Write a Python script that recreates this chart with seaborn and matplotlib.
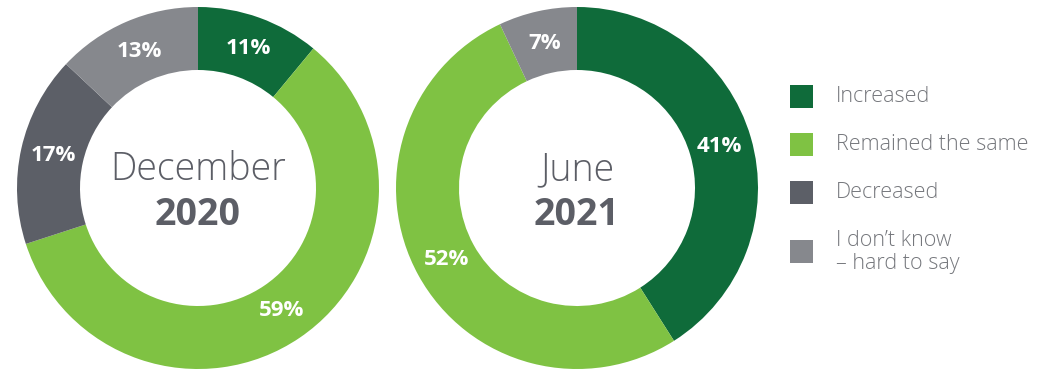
import matplotlib
matplotlib.use("Agg")
import matplotlib.pyplot as plt
from matplotlib.patches import Rectangle
import seaborn as sns

# Survey responses, share of respondents (%)
categories = ["Increased", "Remained the same", "Decreased", "I don\u2019t know\n\u2013 hard to say"]
dec_2020 = [11, 59, 17, 13]
jun_2021 = [41, 52, 0, 7]
period_months = ["December", "June"]
period_years = ["2020", "2021"]

colors = ["#0f6b3a", "#7fc243", "#5c5f67", "#86888d"]
text_dark = "#5c5e66"
legend_text = "#75777c"

sns.set_theme(style="white")
plt.rcParams["font.family"] = ["Open Sans", "DejaVu Sans"]

W, H = 1051, 371
fig = plt.figure(figsize=(W / 100, H / 100), dpi=100)
fig.patch.set_facecolor("white")

R_OUT = 181
RING = 63


def px_axes(cx, cy, r):
    return fig.add_axes([(cx - r) / W, (H - cy - r) / H, 2 * r / W, 2 * r / H])


def fmt(p):
    return f"{p:.0f}%" if p > 0.5 else ""


centers = [(198, 188), (577, 188)]
for (cx, cy), vals, month, year in zip(centers, [dec_2020, jun_2021], period_months, period_years):
    ax = px_axes(cx, cy, R_OUT)
    wedges, _, autotexts = ax.pie(
        vals, colors=colors, startangle=90, counterclock=False, radius=1,
        wedgeprops=dict(width=RING / R_OUT, linewidth=0),
        autopct=fmt, pctdistance=0.82,
    )
    for t in autotexts:
        t.set_color("white")
        t.set_fontsize(16)
        t.set_fontweight("bold")
    ax.set_xlim(-1, 1)
    ax.set_ylim(-1, 1)
    ax.set_aspect("equal")
    ax.axis("off")
    ax.text(0, 0.10, month, ha="center", va="center", fontsize=27,
            fontweight=300, color=text_dark)
    ax.text(0, -0.15, year, ha="center", va="center", fontsize=27,
            fontweight="bold", color=text_dark)

# Legend drawn in pixel space on the right
lax = fig.add_axes([0, 0, 1, 1])
lax.set_xlim(0, W)
lax.set_ylim(H, 0)
lax.axis("off")
lax.patch.set_alpha(0)
square_y = [96.5, 144.5, 192.5, 251.5]
for label, col, y in zip(categories, colors, square_y):
    lax.add_patch(Rectangle((790, y - 11.5), 23, 23, facecolor=col, edgecolor="none"))
    lax.text(836, y + 0.5, label, ha="left", va="center", fontsize=15.5,
             fontweight=300, color=legend_text, linespacing=1.15)

fig.savefig("out.png", dpi=100, facecolor="white")
